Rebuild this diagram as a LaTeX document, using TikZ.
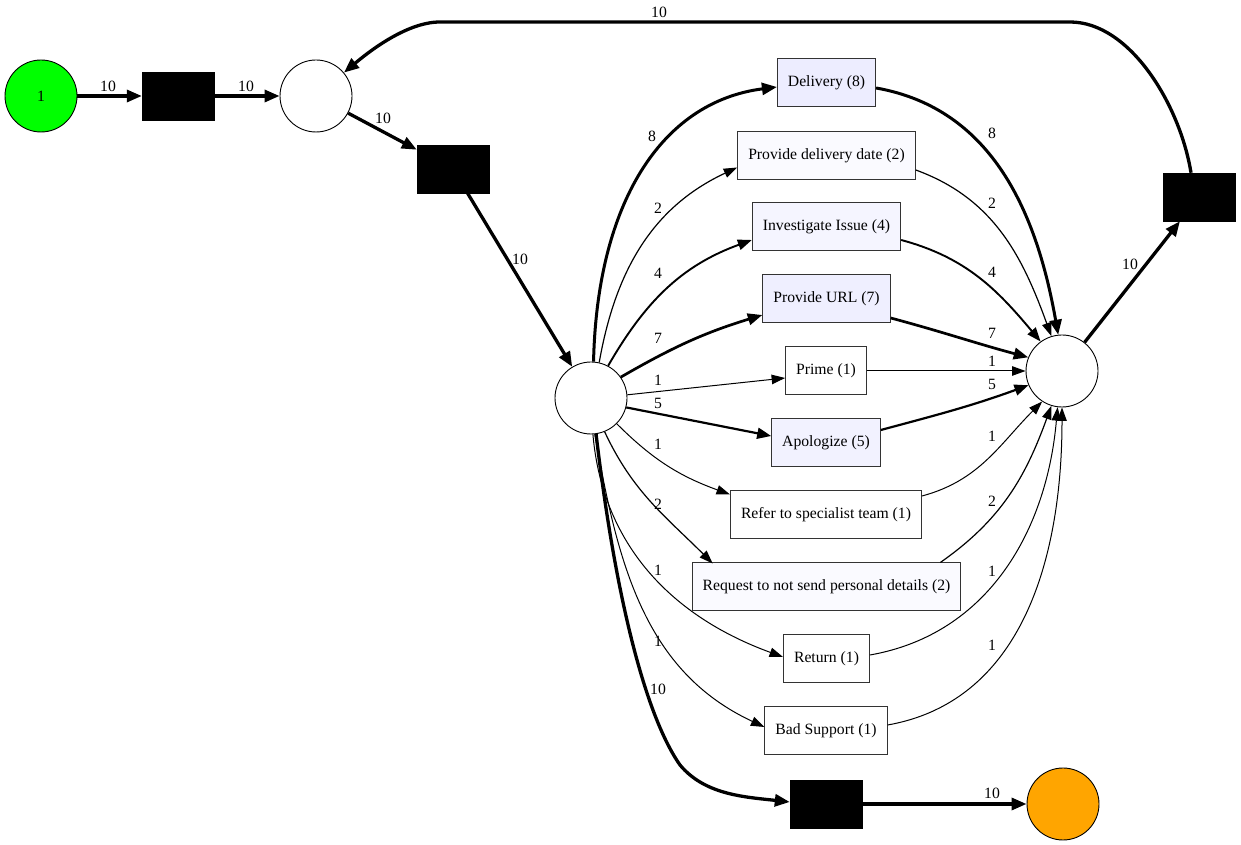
\documentclass[tikz,border=0pt]{standalone}
\usepackage{fontspec}
\setmainfont{Liberation Serif}
\usepackage{xcolor}
\usepackage{tikz}
\usetikzlibrary{arrows.meta}

\definecolor{startgruen}{RGB}{0,255,0}
\definecolor{endorange}{RGB}{255,165,0}
\definecolor{haeufig8}{RGB}{237,237,255}
\definecolor{haeufig7}{RGB}{239,239,255}
\definecolor{haeufig5}{RGB}{242,242,255}
\definecolor{haeufig4}{RGB}{245,245,255}
\definecolor{haeufig2}{RGB}{250,250,255}

\tikzset{
  stelle/.style={circle, draw=black, line width=0.9pt, minimum size=72pt, inner sep=0pt},
  transition/.style={rectangle, draw=black, fill=black, minimum width=72pt, minimum height=48pt, inner sep=0pt},
  aktivitaet/.style={rectangle, draw=black!80, line width=1pt, minimum height=48pt, inner xsep=10.5pt, fill=white},
  zahl/.style={inner sep=0pt},
  kante1/.style={line width=1pt, -{Triangle[length=13.5pt,width=9.5pt]}},
  kante2/.style={line width=1.2pt, -{Triangle[length=13.5pt,width=9.5pt]}},
  kante4/.style={line width=1.9pt, -{Triangle[length=14pt,width=10.5pt]}},
  kante5/.style={line width=2.2pt, -{Triangle[length=14pt,width=11pt]}},
  kante7/.style={line width=2.7pt, -{Triangle[length=14.5pt,width=11.5pt]}},
  kante8/.style={line width=3pt, -{Triangle[length=15pt,width=12pt]}},
  kante10/.style={line width=3.3pt, -{Triangle[length=15pt,width=12pt]}}
}

\begin{document}
\begin{tikzpicture}[x=1pt, y=1pt, every node/.append style={font=\fontsize{15.7}{18}\selectfont}]
        % Rahmen
        \useasboundingbox (0,0) rectangle (1241,845);

        % Stellen
        \node[stelle, fill=startgruen] (start) at (41,749) {1};
        \node[stelle] (p1) at (316,749) {};
        \node[stelle] (p2) at (591,447) {};
        \node[stelle] (p3) at (1062,474) {};
        \node[stelle, fill=endorange] (ende) at (1063,41) {};

        % Transitionen
        \node[transition] (t1) at (178,749) {};
        \node[transition] (t2) at (453,676) {};
        \node[transition] (tende) at (826,41) {};
        \node[transition] (tloop) at (1199,648) {};

        % Aktivitaeten
        \node[aktivitaet, fill=haeufig8] (deliv) at (826.5,762) {Delivery (8)};
        \node[aktivitaet, fill=haeufig2] (ddate) at (826.5,689.5) {Provide delivery date (2)};
        \node[aktivitaet, fill=haeufig4] (invest) at (826.5,618) {Investigate Issue (4)};
        \node[aktivitaet, fill=haeufig7] (url) at (826.5,546) {Provide URL (7)};
        \node[aktivitaet] (prime) at (826,474) {Prime (1)};
        \node[aktivitaet, fill=haeufig5] (apolo) at (826,402) {Apologize (5)};
        \node[aktivitaet] (refer) at (826,330) {Refer to specialist team (1)};
        \node[aktivitaet, fill=haeufig2] (request) at (826.5,258) {Request to not send personal details (2)};
        \node[aktivitaet] (return) at (826.5,186) {Return (1)};
        \node[aktivitaet] (badsup) at (826,114) {Bad Support (1)};

        % Anfang
        \draw[kante10] (start) -- (t1);
        \draw[kante10] (t1) -- (p1);
        \draw[kante10] (p1) -- (t2);
        \draw[kante10] (t2) -- (p2);
        \node[zahl] (z1) at (108,759) {10};
        \node[zahl] (z2) at (246,759) {10};
        \node[zahl] (z3) at (383,727) {10};
        \node[zahl] (z4) at (520,586) {10};

        % Verzweigung
        \draw[kante8] (p2.86) .. controls (597,640) and (660,743) .. ([yshift=-4pt]deliv.west);
        \draw[kante2] (p2.77) to[out=80, in=205] ([yshift=-12pt]ddate.west);
        \draw[kante4] (p2.62) to[out=60, in=200] ([yshift=-13pt]invest.west);
        \draw[kante7] (p2.35) to[out=30, in=197] ([yshift=-16pt]url.west);
        \draw[kante1] (p2.5) -- ([yshift=-7pt]prime.west);
        \draw[kante5] (p2.-15) -- ([yshift=7pt]apolo.west);
        \draw[kante1] (p2.-45) to[out=-45, in=160] ([yshift=-4pt]refer.north west);
        \draw[kante2] (p2.-68) to[out=-65, in=135] ([xshift=21pt,yshift=-1pt]request.north west);
        \draw[kante1] (p2.-87) to[out=-85, in=160] ([yshift=2pt]return.west);
        \draw[kante1] (p2.-84) to[out=-80, in=155] ([yshift=4pt]badsup.west);
        \draw[kante10] (p2.-82) .. controls (615,250) and (645,130) .. (680,80)
            .. controls (705,50) and (745,48) .. ([yshift=2pt]tende.west);
        \node[zahl] (z5) at (652,709) {8};
        \node[zahl] (z6) at (658,637) {2};
        \node[zahl] (z7) at (658,572) {4};
        \node[zahl] (z8) at (658,507) {7};
        \node[zahl] (z9) at (658,465) {1};
        \node[zahl] (z10) at (658,442) {5};
        \node[zahl] (z11) at (658,401) {1};
        \node[zahl] (z12) at (658,341) {2};
        \node[zahl] (z13) at (658,275) {1};
        \node[zahl] (z14) at (658,204) {1};
        \node[zahl] (z15) at (658,156) {10};

        % Zusammenfuehrung
        \draw[kante8] ([yshift=-5pt]deliv.east) to[out=-10, in=100] (p3.96);
        \draw[kante2] ([yshift=-14.5pt]ddate.east) to[out=-20, in=110] (p3.107);
        \draw[kante4] ([yshift=-13pt]invest.east) to[out=-15, in=130] (p3.126);
        \draw[kante7] ([yshift=-19pt]url.east) to[out=-15, in=165] (p3.158);
        \draw[kante1] (prime) -- (p3);
        \draw[kante5] ([yshift=13pt]apolo.east) to[out=15, in=200] (p3.203);
        \draw[kante1] ([yshift=19pt]refer.east) to[out=15, in=225] (p3.237);
        \draw[kante2] ([xshift=-21pt]request.north east) to[out=35, in=250] (p3.253);
        \draw[kante1] ([yshift=4pt]return.east) to[out=10, in=265] (p3.263);
        \draw[kante1] ([yshift=6pt]badsup.east) to[out=10, in=270] (p3.270);
        \node[zahl] (z16) at (992,712) {8};
        \node[zahl] (z17) at (992,642) {2};
        \node[zahl] (z18) at (992,573) {4};
        \node[zahl] (z19) at (992,512) {7};
        \node[zahl] (z20) at (992,484) {1};
        \node[zahl] (z21) at (992,461) {5};
        \node[zahl] (z22) at (992,409) {1};
        \node[zahl] (z23) at (992,344) {2};
        \node[zahl] (z24) at (992,274) {1};
        \node[zahl] (z25) at (992,200) {1};

        % Schleife und Ende
        \draw[kante10] (p3) -- (tloop);
        \draw[kante10] ([xshift=-8pt]tloop.north) .. controls (1180,740) and (1130,823) .. (1070,823)
            -- (440,823) .. controls (405,823) and (365,790) .. (p1);
        \draw[kante10] (tende) -- (ende);
        \node[zahl] (z26) at (1130,581) {10};
        \node[zahl] (z27) at (659,833) {10};
        \node[zahl] (z28) at (992,52) {10};

    \end{tikzpicture}
\end{document}
